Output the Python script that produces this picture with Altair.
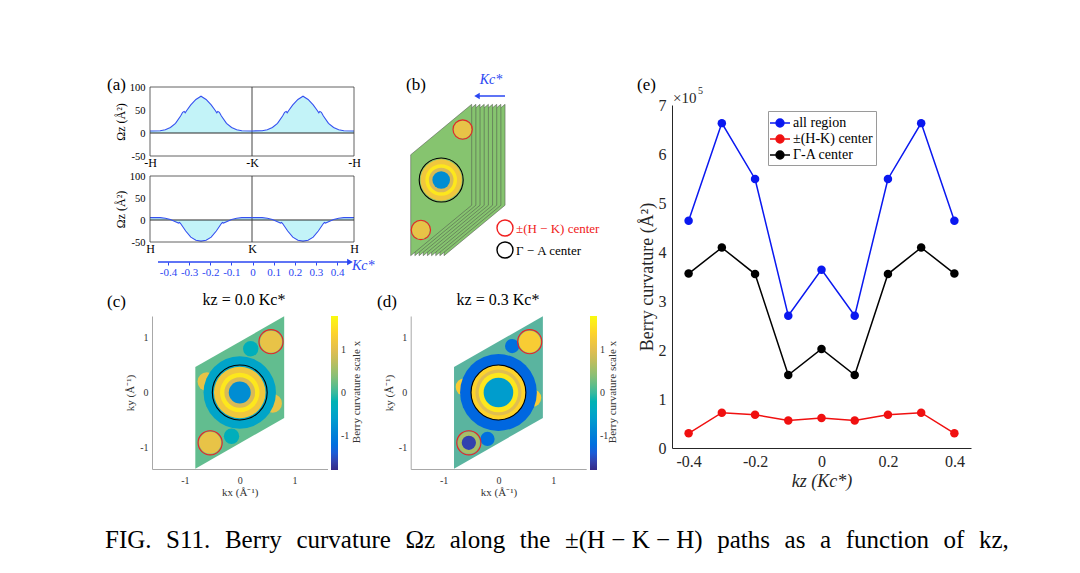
import altair as alt
import pandas as pd

W, H = 1064, 557   # drawing area = page minus the 8px margin
SERIF = "Liberation Serif"
BLUE = "#2a46f2"
PARULA = ["#352a87", "#0363e1", "#1485d4", "#06a7c6", "#38b99e",
          "#92bf73", "#d9ba56", "#fcce2e", "#f9fb0e"]

# %% (a) Omega_z along -H -K -H (top) and H K H (bottom), path coordinate 0..2
path_top = [0, 0.1, 0.15, 0.2, 0.25, 0.3, 0.32, 0.335, 0.345, 0.36, 0.4, 0.45, 0.5,
            0.55, 0.6, 0.64, 0.655, 0.665, 0.68, 0.7, 0.75, 0.8, 0.85, 0.9, 1.0,
            1.1, 1.15, 1.2, 1.25, 1.3, 1.32, 1.335, 1.345, 1.36, 1.4, 1.45, 1.5,
            1.55, 1.6, 1.64, 1.655, 1.665, 1.68, 1.7, 1.75, 1.8, 1.85, 1.9, 2.0]
omega_top = [4.5, 5, 7, 12, 21, 37, 45, 47, 44, 49, 61, 73, 80,
             73, 61, 49, 44, 47, 45, 37, 21, 12, 7, 5, 4.5,
             5, 7, 12, 21, 37, 45, 47, 44, 49, 61, 73, 80,
             73, 61, 49, 44, 47, 45, 37, 21, 12, 7, 5, 4.5]
path_bottom = [0, 0.1, 0.15, 0.2, 0.25, 0.28, 0.29, 0.3, 0.35, 0.4, 0.45, 0.5,
               0.55, 0.6, 0.65, 0.7, 0.71, 0.72, 0.75, 0.8, 0.85, 0.9, 1.0,
               1.1, 1.15, 1.2, 1.25, 1.28, 1.29, 1.3, 1.35, 1.4, 1.45, 1.5,
               1.55, 1.6, 1.65, 1.7, 1.71, 1.72, 1.75, 1.8, 1.85, 1.9, 2.0]
omega_bottom = [5.5, 5.5, 4, 1, -4, -7, -5.5, -8, -25, -39, -46, -48,
                -46, -39, -25, -8, -5.5, -7, -4, 1, 4, 5.5, 5.5,
                5.5, 4, 1, -4, -7, -5.5, -8, -25, -39, -46, -48,
                -46, -39, -25, -8, -5.5, -7, -4, 1, 4, 5.5, 5.5]
path_ticks = [0, 1, 2]
names_top = ["-H", "-K", "-H"]
names_bottom = ["H", "K", "H"]
omega_ticks = [-50, 0, 50, 100]
kc_ticks = [-0.4, -0.3, -0.2, -0.1, 0, 0.1, 0.2, 0.3, 0.4]

# %% (b)-(d) Brillouin-zone slices
bz_kx = [-0.81, -0.81, 0.81, 0.81, -0.81]
bz_ky = [0.465, -1.395, -0.465, 1.395, 0.465]
slice_kz = [-0.4, -0.3, -0.2, -0.1, 0, 0.1, 0.2, 0.3, 0.4]
ga_kx, ga_ky, ga_r = [0], [0], [0.5]                 # Gamma-A centre
hk_kx, hk_ky, hk_r = [0.57, -0.54], [0.93, -0.92], [0.22, 0.22]  # +-(H-K) centres
zone_ticks = [-1, 0, 1]

# rough curvature patches (kz = 0.0)
c_kx = [-0.6, 0.6, -0.15, 0.2, 0, 0, 0, 0, 0, 0.57, -0.54]
c_ky = [0.2, -0.2, -0.8, 0.8, 0, 0, 0, 0, 0, 0.93, -0.92]
c_r = [0.17, 0.17, 0.14, 0.14, 0.66, 0.47, 0.36, 0.28, 0.2, 0.2, 0.2]
c_val = [1.1, 1.1, -0.3, -0.3, -0.5, 1.2, 1.6, 0.9, -0.8, 1.1, 1.1]
# (kz = 0.3)
d_kx = [-0.62, 0.62, -0.2, 0.25, 0, 0, 0, 0, 0, 0.57, -0.54, -0.54]
d_ky = [0.1, -0.1, -0.85, 0.85, 0, 0, 0, 0, 0, 0.93, -0.92, -0.92]
d_r = [0.16, 0.16, 0.13, 0.13, 0.7, 0.5, 0.42, 0.36, 0.27, 0.2, 0.2, 0.13]
d_val = [1.3, 1.3, -1.2, -1.2, -1.3, 1.4, 1.0, 1.6, -0.6, 1.3, 0.6, -1.6]

# %% (e) integrated Berry curvature vs kz (x 1e5)
kz = [-0.4, -0.3, -0.2, -0.1, 0, 0.1, 0.2, 0.3, 0.4]
series = ["all region", "±(H-K) center", "Γ-A center"]
series_colors = ["#0a18f0", "#f01010", "#000000"]
all_region = [4.64, 6.63, 5.49, 2.70, 3.64, 2.70, 5.49, 6.63, 4.64]
hk_center = [0.30, 0.72, 0.68, 0.56, 0.61, 0.56, 0.68, 0.72, 0.30]
ga_center = [3.56, 4.09, 3.55, 1.49, 2.02, 1.49, 3.55, 4.09, 3.56]
e_ticks = [0, 1, 2, 3, 4, 5, 6, 7]
e_xticks = [-0.4, -0.2, 0, 0.2, 0.4]


def lin(domain, rng):
    return alt.Scale(domain=domain, range=rng, nice=False, zero=False)


def note(text, x, y, size=17, color="black", align="left",
         baseline="alphabetic", style="normal", angle=0):
    # x, y are page pixels
    return alt.Chart(pd.DataFrame({"t": [text]})).mark_text(
        font=SERIF, fontSize=size, color=color, align=align,
        baseline=baseline, fontStyle=style, angle=angle
    ).encode(text="t:N", x=alt.value(x - 8), y=alt.value(y - 8))


def x_axis(values, scale, **kw):
    # invisible marks that only carry a bottom axis
    return alt.Chart(pd.DataFrame({"v": values})).mark_point(opacity=0).encode(
        x=alt.X("v:Q", scale=scale, axis=alt.Axis(orient="bottom", values=values,
                                                  grid=False, labelFlush=False, **kw)),
        y=alt.value(0))


def y_axis(values, scale, **kw):
    return alt.Chart(pd.DataFrame({"v": values})).mark_point(opacity=0).encode(
        y=alt.Y("v:Q", scale=scale, axis=alt.Axis(orient="left", values=values,
                                                  grid=False, labelFlush=False, **kw)),
        x=alt.value(0))


# %% panel (a)
A_X = [142, 346]


def path_panel(t, omega, y_rng, names):
    df = pd.DataFrame({"t": t, "omega": omega})
    box = pd.DataFrame({"t0": [0], "t1": [2], "o0": [-50], "o1": [100]})
    xs = lin([0, 2], A_X)
    ys = lin([-50, 100], y_rng)
    area = alt.Chart(df).mark_area(color="#c3f3f8", opacity=1).encode(
        x=alt.X("t:Q", scale=xs, axis=None),
        y=alt.Y("omega:Q", scale=ys, axis=None),
        y2=alt.datum(0))
    zero = alt.Chart(box).mark_rule(color="#2b2b2b", strokeWidth=1.2).encode(
        x=alt.X("t0:Q", scale=xs, axis=None), x2="t1:Q",
        y=alt.Y(datum=0, scale=ys, axis=None))
    kline = alt.Chart(pd.DataFrame({"t": [1]})).mark_rule(color="#444", strokeWidth=1).encode(
        x=alt.X("t:Q", scale=xs, axis=None),
        y=alt.Y(datum=-50, scale=ys, axis=None), y2=alt.datum(100))
    curve = alt.Chart(df).mark_line(color="#3550f0", strokeWidth=1.1).encode(
        x=alt.X("t:Q", scale=xs, axis=None), y=alt.Y("omega:Q", scale=ys, axis=None))
    frame = alt.Chart(box).mark_rect(fillOpacity=0, stroke="#3a3a3a", strokeWidth=0.8).encode(
        x=alt.X("t0:Q", scale=xs, axis=None), x2="t1:Q",
        y=alt.Y("o0:Q", scale=ys, axis=None), y2="o1:Q")
    axes = [
        x_axis(path_ticks, xs, offset=y_rng[0] - H, labelExpr=f"{names}[datum.value]",
               domain=False, ticks=False, labelFont=SERIF, labelFontSize=12,
               labelColor="black", labelPadding=1, title=None),
        y_axis(omega_ticks, ys, offset=-A_X[0], labelExpr="'' + datum.value",
               domain=False, ticks=False, labelFont=SERIF, labelFontSize=10.5,
               labelColor="black", labelPadding=5, title="Ωz (Å²)", titleFont=SERIF,
               titleFontSize=12, titleFontWeight="normal", titleColor="black",
               titlePadding=2),
    ]
    return [alt.layer(area, zero, kline, curve, frame)] + axes


panel_a = (path_panel(path_top, omega_top, [148, 79], names_top)
           + path_panel(path_bottom, omega_bottom, [234, 168], names_bottom))

kc_axis = x_axis(kc_ticks, lin([-0.4, 0.4], [160, 329]), offset=254 - H,
                 labelExpr="'' + datum.value", domain=False, tickColor=BLUE,
                 tickSize=3, labelColor=BLUE, labelFont=SERIF, labelFontSize=11,
                 labelPadding=1, title=None)
kc_arrow = alt.Chart(pd.DataFrame({"t": [0]})).mark_rule(color=BLUE, strokeWidth=1.5).encode(
    x=alt.value(150), x2=alt.value(340), y=alt.value(254))
kc_head = alt.Chart(pd.DataFrame({"t": [0]})).mark_point(
    shape="triangle-right", filled=True, size=45, color=BLUE, opacity=1).encode(
    x=alt.value(342), y=alt.value(254))


# %% panels (b), (c), (d)
def spot_frame(kx, ky, r, ppu, val=None):
    df = pd.DataFrame({"kx": kx, "ky": ky, "r": r})
    df["size"] = (2 * df["r"] * ppu) ** 2
    if val is not None:
        df["val"] = val
    return df


def parula_color(legend):
    return alt.Color("val:Q", scale=alt.Scale(domain=[-1.8, 1.8], range=PARULA),
                     legend=legend)


def zone_layers(xs, ys, ppu, kx, ky, r, val, legend):
    spots = alt.Chart(spot_frame(kx, ky, r, ppu, val)).mark_point(
        shape="circle", filled=True, opacity=1, strokeWidth=0).encode(
        x=alt.X("kx:Q", scale=xs, axis=None), y=alt.Y("ky:Q", scale=ys, axis=None),
        color=parula_color(legend), size=alt.Size("size:Q", scale=None))
    rings = []
    for (rx, ry, rr, col) in [(ga_kx, ga_ky, ga_r, "black"), (hk_kx, hk_ky, hk_r, "#f02020")]:
        rings.append(alt.Chart(spot_frame(rx, ry, rr, ppu)).mark_point(
            shape="circle", filled=False, color=col, strokeWidth=1.1, opacity=1).encode(
            x=alt.X("kx:Q", scale=xs, axis=None), y=alt.Y("ky:Q", scale=ys, axis=None),
            size=alt.Size("size:Q", scale=None)))
    return [spots] + rings


# (b) stack of kz slices, front slice = kz 0.4
B_X, B_Y = [402.7, 463.7], [247.7, 96.3]
SLICE_STEP = 4.17            # px between neighbouring slices
b_ppu_x = (B_X[1] - B_X[0]) / (2 * 0.81)
rows = []
for s, kz_s in enumerate(slice_kz):
    shift = (slice_kz[-1] - kz_s) / 0.1 * SLICE_STEP / b_ppu_x
    for i, (x, y) in enumerate(zip(bz_kx, bz_ky)):
        rows.append({"slice": s, "i": i, "kx": x + shift, "ky": y})
bxs, bys = lin([-0.81, 0.81], B_X), lin([-1.395, 1.395], B_Y)
slices = alt.Chart(pd.DataFrame(rows)).mark_line(
    fill="#86c46f", stroke="#4a4a4a", strokeWidth=0.5).encode(
    x=alt.X("kx:Q", scale=bxs, axis=None), y=alt.Y("ky:Q", scale=bys, axis=None),
    detail="slice:N", order="i:Q")
panel_b = alt.layer(slices, *zone_layers(bxs, bys, 44, c_kx[5:], c_ky[5:], c_r[5:],
                                          c_val[5:], None))

b_arrow = alt.Chart(pd.DataFrame({"t": [0]})).mark_rule(color=BLUE, strokeWidth=1.5).encode(
    x=alt.value(470), x2=alt.value(497), y=alt.value(88))
b_head = alt.Chart(pd.DataFrame({"t": [0]})).mark_point(
    shape="triangle-left", filled=True, size=40, color=BLUE, opacity=1).encode(
    x=alt.value(469), y=alt.value(88))
b_key_red = alt.Chart(pd.DataFrame({"t": [0]})).mark_point(
    shape="circle", filled=False, size=256, color="#f02020", strokeWidth=1.4, opacity=1).encode(
    x=alt.value(497), y=alt.value(220))
b_key_black = alt.Chart(pd.DataFrame({"t": [0]})).mark_point(
    shape="circle", filled=False, size=256, color="black", strokeWidth=1.4, opacity=1).encode(
    x=alt.value(497), y=alt.value(242))

C_Y = [461, 308]


def zone_panel(x_rng, kx, ky, r, val, fill, legend_x):
    xs, ys = lin([-1.6, 1.6], x_rng), lin([-1.4, 1.4], C_Y)
    ppu = (x_rng[1] - x_rng[0]) / 3.2
    common = dict(labelExpr="'' + datum.value", ticks=False, domainColor="#a8a8a8",
                  labelFont=SERIF, labelFontSize=10, labelColor="#333", titleFont=SERIF,
                  titleFontSize=11, titleFontWeight="normal", titleColor="#333")
    bz = pd.DataFrame({"kx": bz_kx, "ky": bz_ky, "i": range(len(bz_kx))})
    zone = alt.Chart(bz).mark_line(fill=fill, strokeWidth=0).encode(
        x=alt.X("kx:Q", scale=xs, axis=None), y=alt.Y("ky:Q", scale=ys, axis=None),
        order="i:Q")
    legend = alt.Legend(orient="none", legendX=legend_x, legendY=C_Y[1],
                        direction="vertical", gradientLength=154, gradientThickness=7,
                        gradientStrokeWidth=0, values=zone_ticks,
                        labelExpr="'' + datum.value", labelFont=SERIF, labelFontSize=10,
                        labelColor="#333", labelOffset=3, padding=0, title=None)
    axes = [
        x_axis(zone_ticks, xs, offset=C_Y[0] - H, title="kx (Å⁻¹)", labelPadding=6,
               titlePadding=1, **common),
        y_axis(zone_ticks, ys, offset=-x_rng[0], title="ky (Å⁻¹)", labelPadding=4,
               titlePadding=4, **common),
    ]
    return [alt.layer(zone, *zone_layers(xs, ys, ppu, kx, ky, r, val, legend))] + axes


panel_c = zone_panel([144, 319.5], c_kx, c_ky, c_r, c_val, "#62bd8f", 323)
panel_d = zone_panel([402.7, 578.2], d_kx, d_ky, d_r, d_val, "#5ab49f", 582)

# %% panel (e)
E_X, E_Y = [664, 963], [440, 97]
e_df = pd.DataFrame({
    "kz": kz * 3,
    "curv": all_region + hk_center + ga_center,
    "series": [s for s in series for _ in kz],
})
ex, ey = lin([-0.45, 0.45], E_X), lin([0, 7], E_Y)
# legend key: short line with a dot on it
LEGEND_SYMBOL = "M-1.25,0L1.25,0M0.5,0A0.5,0.5,0,1,1,-0.5,0A0.5,0.5,0,1,1,0.5,0Z"
e_color = alt.Color("series:N", scale=alt.Scale(domain=series, range=series_colors),
                    legend=alt.Legend(orient="none", legendX=760, legendY=103, title=None,
                                      symbolType=LEGEND_SYMBOL, symbolSize=256,
                                      symbolStrokeWidth=1.4, labelFont=SERIF,
                                      labelFontSize=14, labelColor="black",
                                      strokeColor="#9a9a9a", fillColor="white",
                                      padding=3, rowPadding=0, labelOffset=4))
e_lines = alt.Chart(e_df).mark_line(strokeWidth=1.5).encode(
    x=alt.X("kz:Q", scale=ex, axis=None), y=alt.Y("curv:Q", scale=ey, axis=None),
    color=e_color)
e_dots = alt.Chart(e_df).mark_point(shape="circle", filled=True, size=72, opacity=1).encode(
    x=alt.X("kz:Q", scale=ex, axis=None), y=alt.Y("curv:Q", scale=ey, axis=None),
    color=e_color)
e_common = dict(ticks=False, domainColor="#262626", labelFont=SERIF, labelFontSize=16,
                labelColor="#262626", titleFont=SERIF, titleFontSize=18,
                titleFontWeight="normal", titleColor="#262626")
panel_e = [
    alt.layer(e_lines, e_dots),
    x_axis(e_xticks, ex, offset=E_Y[0] - H, labelExpr="'' + datum.value", labelPadding=5,
           title="kz (Kc*)", titleFontStyle="italic", titlePadding=3, **e_common),
    y_axis(e_ticks, ey, offset=-E_X[0], labelPadding=6, title="Berry curvature (Å²)",
           titlePadding=2, **e_common),
]

# %% annotations
GAP = "\u2002\u200a"
CAPTION = GAP.join(["FIG.", "S11.", "Berry", "curvature", "Ωz", "along", "the",
                    "±(H − K − H)", "paths", "as", "a", "function", "of", "kz,"])
notes = [
    note("(a)", 107, 90), note("(b)", 406, 90), note("(c)", 107, 307),
    note("(d)", 377, 307), note("(e)", 637, 90),
    note("Kc*", 352, 270, size=14, color=BLUE, style="italic"),
    note("Kc*", 491, 84, size=14, color=BLUE, style="italic", align="center"),
    note("±(H − K) center", 516, 233, size=13, color="#f02020"),
    note("Γ − A center", 516, 255, size=13),
    note("kz = 0.0 Kc*", 244, 305, size=16, align="center"),
    note("kz = 0.3 Kc*", 498, 305, size=16, align="center"),
    note("Berry curvature scale x", 357, 392, size=11, color="#333",
         align="center", baseline="middle", angle=270),
    note("Berry curvature scale x", 613, 392, size=11, color="#333",
         align="center", baseline="middle", angle=270),
    note("×10", 673, 103, size=15, color="#262626"),
    note("5", 698, 94, size=10, color="#262626"),
    note(CAPTION, 105, 548, size=25),
]

chart = alt.layer(
    *panel_a, kc_axis, kc_arrow, kc_head,
    panel_b, b_arrow, b_head, b_key_red, b_key_black,
    *panel_c, *panel_d, *panel_e, *notes,
).resolve_scale(
    x="independent", y="independent", color="independent"
).resolve_axis(
    x="independent", y="independent"
).resolve_legend(
    color="independent"
).properties(
    width=W, height=H, padding=0, autosize=alt.AutoSizeParams(type="none")
).configure_view(stroke=None)

chart.save("out.html", embed_options={"renderer": "svg", "actions": False})
